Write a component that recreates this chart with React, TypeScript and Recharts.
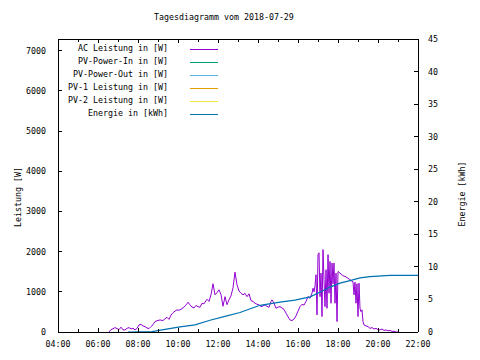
import { ComposedChart, Line, XAxis, YAxis } from "recharts";

const FONT = "'DejaVu Sans Mono', monospace";
const FS = 8.3;

const title = "Tagesdiagramm vom 2018-07-29";
const leftAxisTitle = "Leistung [W]";
const rightAxisTitle = "Energie [kWh]";

const seriesNames = [
  "AC Leistung in [W]",
  "PV-Power-In in [W]",
  "PV-Power-Out in [W]",
  "PV-1 Leistung in [W]",
  "PV-2 Leistung in [W]",
  "Energie in [kWh]",
];
const seriesColors = ["#9400d3", "#009e73", "#56b4e9", "#e69f00", "#f0e442", "#0072b2"];

const hourTicks = [4, 5, 6, 7, 8, 9, 10, 11, 12, 13, 14, 15, 16, 17, 18, 19, 20, 21, 22];
const powerTicks = [0, 1000, 2000, 3000, 4000, 5000, 6000, 7000];
const energyTicks = [0, 5, 10, 15, 20, 25, 30, 35, 40, 45];

// AC Leistung
const acTimes = [
  "06:33", "06:39", "06:45", "06:51", "06:57", "07:03", "07:09", "07:15", "07:21", "07:27",
  "07:33", "07:39", "07:45", "07:51", "07:57", "08:03", "08:09", "08:15", "08:21", "08:27",
  "08:33", "08:39", "08:45", "08:51", "08:57", "09:06", "09:15", "09:21", "09:27", "09:33",
  "09:39", "09:45", "09:51", "09:57", "10:03", "10:09", "10:15", "10:21", "10:27", "10:30",
  "10:36", "10:42", "10:48", "10:54", "11:00", "11:06", "11:12", "11:18", "11:24", "11:27",
  "11:33", "11:39", "11:45", "11:51", "11:57", "12:03", "12:09", "12:15", "12:21", "12:27",
  "12:33", "12:39", "12:45", "12:51", "12:57", "13:03", "13:09", "13:15", "13:21", "13:27",
  "13:33", "13:39", "13:45", "13:51", "13:57", "14:03", "14:09", "14:15", "14:21", "14:27",
  "14:33", "14:39", "14:42", "14:48", "14:54", "15:00", "15:06", "15:12", "15:18", "15:24",
  "15:30", "15:36", "15:42", "15:48", "15:54", "16:00", "16:06", "16:12", "16:18", "16:24",
  "16:30", "16:36", "16:42", "16:45", "16:48", "16:51", "16:54", "16:57", "17:00", "17:03",
  "17:06", "17:09", "17:12", "17:15", "17:18", "17:21", "17:24", "17:27", "17:30", "17:33",
  "17:36", "17:39", "17:42", "17:45", "17:48", "17:51", "17:54", "17:57", "18:00", "18:06",
  "18:15", "18:24", "18:33", "18:39", "18:45", "18:48", "18:51", "18:54", "18:57", "19:00",
  "19:03", "19:06", "19:09", "19:12", "19:15", "19:18", "19:24", "19:30", "19:36", "19:42",
  "19:48", "19:54", "20:00", "20:06", "20:12", "20:18", "20:24", "20:30", "20:36", "20:42",
  "20:48", "20:54", "21:00",
];
const acWatts = [
  0, 60, 80, 110, 85, 60, 120, 55, 50, 90,
  110, 75, 95, 50, 90, 175, 190, 150, 135, 100,
  85, 135, 180, 260, 280, 300, 285, 330, 365, 315,
  420, 480, 520, 550, 540, 565, 600, 650, 700, 740,
  675, 620, 600, 660, 630, 615, 715, 700, 780, 815,
  760, 925, 1200, 925, 980, 1050, 930, 640, 880, 680,
  800, 900, 1100, 1490, 1175, 1020, 965, 925, 960, 880,
  950, 780, 760, 715, 690, 675, 630, 650, 675, 640,
  615, 760, 800, 720, 590, 620, 630, 600, 560, 470,
  380, 300, 285, 320, 400, 520, 630, 690, 670, 760,
  880, 840, 965, 1090, 1000, 1150, 1425, 425, 1925, 1970,
  880, 1465, 385, 2050, 1300, 630, 1550, 590, 1925, 965,
  1755, 715, 1715, 1200, 1715, 715, 1465, 260, 1505, 1465,
  1400, 1370, 1320, 1280, 1250, 925, 1240, 715, 1200, 385,
  1215, 590, 505, 550, 260, 175, 150, 135, 90, 110,
  75, 90, 60, 50, 75, 40, 50, 30, 40, 15,
  20, 0, 0,
];

// Energie in kWh
const energyTimes = [
  "07:30", "08:42", "09:21", "10:06", "10:51", "11:36", "12:21", "13:06", "14:06", "15:06",
  "15:51", "16:36", "17:06", "17:36", "18:06", "18:36", "19:06", "19:36", "20:36", "22:00",
];
const energyKwh = [
  0, 0.05, 0.4, 0.8, 1.1, 1.8, 2.4, 3.0, 4.1, 4.6,
  4.9, 5.4, 6.1, 6.9, 7.5, 7.9, 8.3, 8.5, 8.7, 8.7,
];

const toHours = (s: string) => {
  const [h, m] = s.split(":").map(Number);
  return h + m / 60;
};
const hourLabel = (v: number) => `${String(v).padStart(2, "0")}:00`;

const acData = acTimes.map((t, i) => ({ t: toHours(t), w: acWatts[i] }));
const energyData = energyTimes.map((t, i) => ({ t: toHours(t), e: energyKwh[i] }));

const txt = { fontFamily: FONT, fontSize: FS, fill: "#000" };

function BottomTick(props: any) {
  const { x, y, payload } = props;
  const major = payload.value % 2 === 0;
  return (
    <g>
      <line x1={x} x2={x} y1={y} y2={y - (major ? 4 : 3)} stroke="#000" shapeRendering="crispEdges" />
      {major && (
        <text x={x} y={y + 15} textAnchor="middle" {...txt}>
          {hourLabel(payload.value)}
        </text>
      )}
    </g>
  );
}

function TopTick(props: any) {
  const { x, y, payload } = props;
  const major = payload.value % 2 === 0;
  return <line x1={x} x2={x} y1={y} y2={y + (major ? 4 : 3)} stroke="#000" shapeRendering="crispEdges" />;
}

function LeftTick(props: any) {
  const { x, y, payload } = props;
  return (
    <g>
      <line x1={x} x2={x + 4} y1={y} y2={y} stroke="#000" shapeRendering="crispEdges" />
      <text x={x - 12} y={y + 3} textAnchor="end" {...txt}>
        {payload.value}
      </text>
    </g>
  );
}

function MirrorTick(props: any) {
  const { x, y } = props;
  return <line x1={x} x2={x - 4} y1={y} y2={y} stroke="#000" shapeRendering="crispEdges" />;
}

function RightTick(props: any) {
  const { x, y, payload } = props;
  return (
    <g>
      <line x1={x} x2={x - 4} y1={y} y2={y} stroke="#000" shapeRendering="crispEdges" />
      <text x={x + 10} y={y + 3} textAnchor="start" {...txt}>
        {payload.value}
      </text>
    </g>
  );
}

const axisLine = { stroke: "#000", shapeRendering: "crispEdges" };

export default function App() {
  return (
    <div style={{ position: "absolute", left: 0, top: 0, width: 480, height: 360, background: "#fff" }}>
      <ComposedChart width={480} height={360} margin={{ top: 19, right: 12, bottom: 8, left: 8 }}>
        <XAxis
          xAxisId="bottom"
          dataKey="t"
          type="number"
          domain={[4, 22]}
          ticks={hourTicks}
          interval={0}
          allowDataOverflow
          height={20}
          tickSize={0}
          tickMargin={0}
          tickLine={false}
          axisLine={axisLine}
          tick={<BottomTick />}
        />
        <XAxis
          xAxisId="top"
          orientation="top"
          dataKey="t"
          type="number"
          domain={[4, 22]}
          ticks={hourTicks}
          interval={0}
          allowDataOverflow
          height={20}
          tickSize={0}
          tickMargin={0}
          tickLine={false}
          axisLine={axisLine}
          tick={<TopTick />}
        />
        <YAxis
          yAxisId="power"
          type="number"
          domain={[0, 7290]}
          ticks={powerTicks}
          interval={0}
          allowDataOverflow
          width={50}
          tickSize={0}
          tickMargin={0}
          tickLine={false}
          axisLine={axisLine}
          tick={<LeftTick />}
        />
        <YAxis
          yAxisId="mirror"
          orientation="right"
          type="number"
          domain={[0, 7290]}
          ticks={powerTicks}
          interval={0}
          width={0}
          tickSize={0}
          tickMargin={0}
          tickLine={false}
          axisLine={false}
          tick={<MirrorTick />}
        />
        <YAxis
          yAxisId="energy"
          orientation="right"
          type="number"
          domain={[0, 45]}
          ticks={energyTicks}
          interval={0}
          allowDataOverflow
          width={50}
          tickSize={0}
          tickMargin={0}
          tickLine={false}
          axisLine={axisLine}
          tick={<RightTick />}
        />
        <Line
          data={acData}
          dataKey="w"
          xAxisId="bottom"
          yAxisId="power"
          type="linear"
          stroke={seriesColors[0]}
          strokeWidth={1}
          dot={false}
          isAnimationActive={false}
        />
        <Line
          data={energyData}
          dataKey="e"
          xAxisId="bottom"
          yAxisId="energy"
          type="linear"
          stroke={seriesColors[5]}
          strokeWidth={1.2}
          dot={false}
          isAnimationActive={false}
        />
        <text x={154} y={20} textAnchor="start" {...txt}>
          {title}
        </text>
        <text x={18} y={197} transform="rotate(-90 18 197)" textAnchor="middle" dominantBaseline="central" {...txt}>
          {leftAxisTitle}
        </text>
        <text x={462} y={194} transform="rotate(-90 462 194)" textAnchor="middle" dominantBaseline="central" {...txt}>
          {rightAxisTitle}
        </text>
        {seriesNames.map((name, i) => {
          const y = 49 + i * 13;
          return (
            <g key={name}>
              <text x={168} y={y + 1.5} textAnchor="end" {...txt}>
                {name}
              </text>
              <line x1={190} x2={218} y1={y} y2={y} stroke={seriesColors[i]} strokeWidth={1} shapeRendering="crispEdges" />
            </g>
          );
        })}
      </ComposedChart>
    </div>
  );
}
